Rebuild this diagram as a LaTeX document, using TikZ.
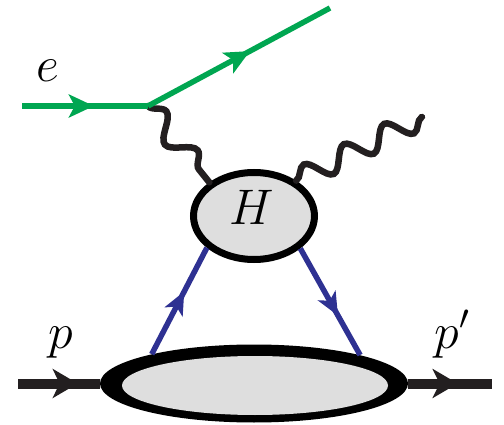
\RequirePackage{fix-cm}
\documentclass[tikz,border=0pt]{standalone}
\usetikzlibrary{arrows.meta,decorations.markings,decorations.pathmorphing,shapes.geometric}
\definecolor{egreen}{HTML}{00A651}
\definecolor{qblue}{HTML}{2E3192}
\definecolor{lgray}{HTML}{DEDEDE}
\definecolor{pblack}{HTML}{231F20}
\tikzset{
  fermion/.style={line width=5.5pt, draw=egreen, postaction={decorate},
    decoration={markings, mark=at position #1 with {\arrow[egreen]{Stealth[length=25pt,width=23pt,inset=6pt]}}}},
  quark/.style={line width=5.5pt, draw=qblue, postaction={decorate},
    decoration={markings, mark=at position #1 with {\arrow[qblue]{Stealth[length=23pt,width=20pt,inset=6pt]}}}},
  proton/.style={line width=10pt, draw=pblack, postaction={decorate},
    decoration={markings, mark=at position #1 with {\arrow[pblack]{Stealth[length=25pt,width=29pt,inset=7pt]}}}},
  photon/.style={line width=6.5pt, draw=pblack, line cap=round, decorate,
    decoration={snake, segment length=#1, amplitude=11pt}},
  lbl/.style={font=\fontsize{50}{56}\selectfont, inner sep=0pt, anchor=base},
}
\begin{document}
\begin{tikzpicture}[x=1pt,y=-1pt]
\useasboundingbox (0,0) rectangle (504,425);
% coordinates
\coordinate (ein) at (22,106);
\coordinate (V) at (148,106);
\coordinate (eout) at (330,8);
\coordinate (gout) at (422,117);
\coordinate (pin) at (18,383.5);
\coordinate (pout) at (492,383.5);
% hadron blob
\node[ellipse, fill=black, minimum width=308pt, minimum height=78pt, inner sep=0pt] (P) at (254,383.5) {};
\node[ellipse, fill=lgray, minimum width=266pt, minimum height=59pt, inner sep=0pt] (Pin) at (255,385.5) {};
% hard part
\node[ellipse, draw=black, line width=7pt, fill=lgray, minimum width=121pt, minimum height=87pt, inner sep=0pt] (H) at (254,216) {};
\node[lbl] (Hl) at (252,225) {$H$};
% photons
\draw[photon=50pt] (V) -- (H.143.1);
\draw[photon=45pt] (H.40.1) -- (gout);
% electron
\draw[fermion=0.57] (ein) -- (V);
\draw[fermion=0.56] (V) -- (eout);
% quarks
\draw[quark=0.59] (P.164.5) -- (H.214.9);
\draw[quark=0.63] (H.-35.3) -- (P.15.5);
% protons
\draw[proton=0.73] (pin) -- (P.west);
\draw[proton=0.59] (P.east) -- (pout);
% labels
\node[lbl] (el) at (48,82) {$e$};
\node[lbl] (pl) at (61,348) {$p$};
\node[lbl] (ppl) at (452,348) {$p'$};
\end{tikzpicture}
\end{document}
